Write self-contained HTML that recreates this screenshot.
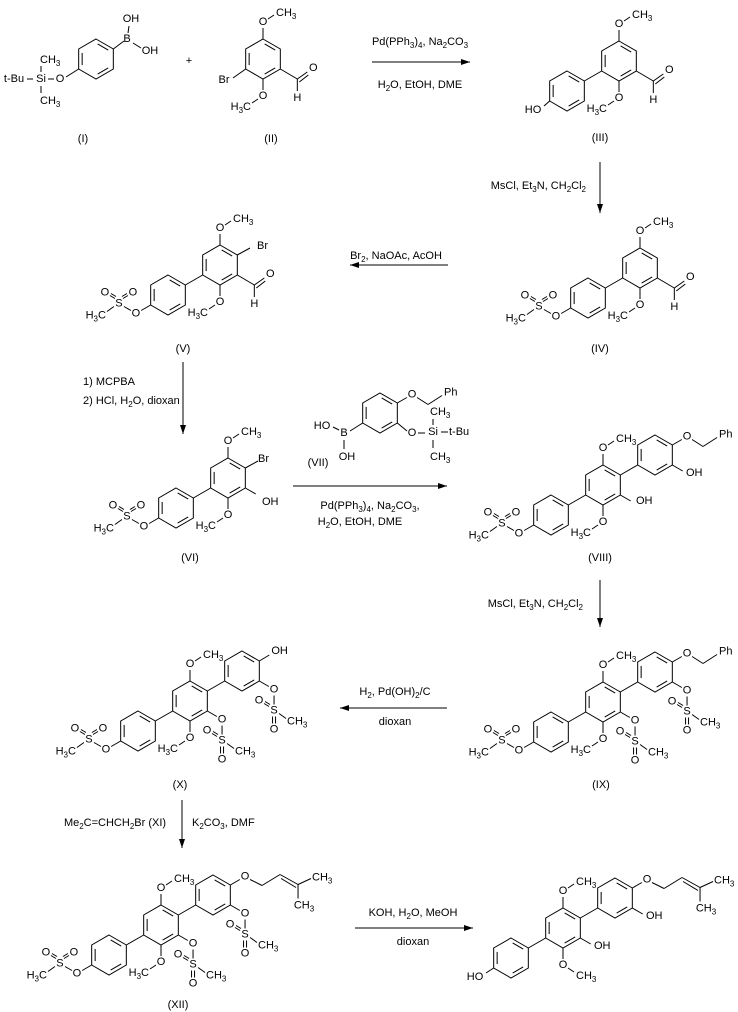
<!DOCTYPE html>
<html><head><meta charset="utf-8"><style>
html,body{margin:0;padding:0;background:#fff;}
svg{display:block;}
text{font-family:"Liberation Sans",sans-serif;font-size:11px;fill:#000;}
</style></head><body>
<svg id="s" width="738" height="1012" viewBox="0 0 738 1012" xmlns="http://www.w3.org/2000/svg"></svg>
<script>
const S=document.getElementById('s');const NS='http://www.w3.org/2000/svg';
let out='';
const r=20;
function P(c,i){const a=(-90+60*i)*Math.PI/180;return [c[0]+r*Math.cos(a),c[1]+r*Math.sin(a)];}
function L(a,b,c,d){out+=`<line x1="${a}" y1="${b}" x2="${c}" y2="${d}" stroke="#000" stroke-width="1"/>`;}
function T(x,y,s,anc){anc=anc||'middle';
 let h=s.replace(/_(\w)/g,'<tspan font-size="8" dy="3">$1</tspan><tspan dy="-3">\u200b</tspan>');
 out+=`<text x="${x}" y="${y}" text-anchor="${anc}" dominant-baseline="central">${h}</text>`;}
function ring(c){const p=[];for(let i=0;i<6;i++)p.push(P(c,i));
 out+=`<polygon points="${p.map(q=>q.join(',')).join(' ')}" fill="none" stroke="#000" stroke-width="1"/>`;
 for(const i of [0,2,4]){const a=p[i],b=p[(i+1)%6];
  const f=(q)=>[q[0]+(c[0]-q[0])*0.2,q[1]+(c[1]-q[1])*0.2];
  let A=f(a),B=f(b);const dx=B[0]-A[0],dy=B[1]-A[1];
  L(A[0]+dx*0.12,A[1]+dy*0.12,B[0]-dx*0.12,B[1]-dy*0.12);}}
function dir(c,i){const p=P(c,i);return [(p[0]-c[0])/r,(p[1]-c[1])/r];}
function sub(c,i,label,len){len=len||18;const p=P(c,i),d=dir(c,i);
 const e=[p[0]+d[0]*(len-6),p[1]+d[1]*(len-6)];L(p[0],p[1],e[0],e[1]);
 const q=[p[0]+d[0]*len,p[1]+d[1]*len];if(label)T(q[0],q[1],label);return q;}
function bond(c1,i,c2,j){const a=P(c1,i),b=P(c2,j);L(a[0],a[1],b[0],b[1]);}
function meoTop(c){const o=sub(c,0,'O',17);L(o[0]+5,o[1]-3,o[0]+11,o[1]-7);T(o[0]+13,o[1]-9,'CH_3','start');}
function meoBot(c){const o=sub(c,3,'O',17);L(o[0]-5,o[1]+3,o[0]-11,o[1]+7);T(o[0]-12,o[1]+11,'H_3C','end');}
function meoBot2(c){const o=sub(c,3,'O',17);L(o[0]+5,o[1]+3,o[0]+11,o[1]+7);T(o[0]+13,o[1]+11,'CH_3','start');}
function msL(c){const o=sub(c,4,'O',17);const s=[o[0]-17,o[1]-10];L(o[0]-5,o[1]-3,s[0]+5,s[1]+3);T(s[0],s[1],'S');
 L(s[0]-4,s[1]-5,s[0]-9,s[1]-8);L(s[0]-3,s[1]-7,s[0]-8,s[1]-10);T(s[0]-14,s[1]-11,'O');
 L(s[0]+4,s[1]-5,s[0]+9,s[1]-8);L(s[0]+3,s[1]-7,s[0]+8,s[1]-10);T(s[0]+14,s[1]-11,'O');
 L(s[0]-5,s[1]+3,s[0]-12,s[1]+8);T(s[0]-13,s[1]+12,'H_3C','end');}
function msR(c,i){const o=sub(c,i,'O',17);const s=[o[0],o[1]+21];L(o[0],o[1]+6,s[0],s[1]-6);T(s[0],s[1],'S');
 L(s[0]-5,s[1]-4,s[0]-10,s[1]-7);L(s[0]-4,s[1]-6,s[0]-9,s[1]-9);T(s[0]-15,s[1]-10,'O');
 L(s[0]-1.5,s[1]+6,s[0]-1.5,s[1]+13);L(s[0]+1.5,s[1]+6,s[0]+1.5,s[1]+13);T(s[0],s[1]+19,'O');
 L(s[0]+5,s[1]+3,s[0]+12,s[1]+8);T(s[0]+13,s[1]+11,'CH_3','start');}
function cho(c){const p=P(c,2);const q=[p[0]+17,p[1]+10];L(p[0],p[1],q[0],q[1]);
 L(q[0],q[1],q[0]+10,q[1]-7);L(q[0]+2,q[1]+3,q[0]+11,q[1]-4);T(q[0]+16,q[1]-11,'O');L(q[0],q[1],q[0],q[1]+12);T(q[0],q[1]+19,'H');}
function obn(c){const o=sub(c,1,'O',17);L(o[0]+5,o[1]+3,o[0]+16,o[1]+10);L(o[0]+16,o[1]+10,o[0]+30,o[1]+1);T(o[0]+32,o[1]-2,'Ph','start');}
function prenyl(c){const o=sub(c,1,'O',17);const a=[o[0]+17,o[1]+9],b=[o[0]+35,o[1]-2],d=[o[0]+53,o[1]+8];
 L(o[0]+5,o[1]+3,a[0],a[1]);L(a[0],a[1],b[0],b[1]);L(b[0],b[1],d[0],d[1]);L(b[0]+1,b[1]+4,d[0]-2,d[1]+3);
 L(d[0],d[1],d[0]+13,d[1]-6);T(d[0]+14,d[1]-7,'CH_3','start');L(d[0],d[1],d[0],d[1]+14);T(d[0]+6,d[1]+21,'CH_3');}
function arrow(x1,y1,x2,y2){L(x1,y1,x2,y2);const dx=x2-x1,dy=y2-y1,l=Math.hypot(dx,dy),ux=dx/l,uy=dy/l;
 const b=[x2-ux*9,y2-uy*9];out+=`<polygon points="${x2},${y2} ${b[0]-uy*3},${b[1]+ux*3} ${b[0]+uy*3},${b[1]-ux*3}" fill="#000"/>`;}

// (I)
let c=[96,59];ring(c);
let p=P(c,1);L(p[0],p[1],124,41);T(127,39,'B');L(128,33,129,26);T(131,19,'OH');L(133,43,141,48);T(150,51,'OH');
p=P(c,4);L(p[0],p[1],66,77);T(60,79,'O');L(54,79,48,79);T(41,79,'Si');L(33,79,27,79);T(14,79,'t-Bu');
L(41,72,41,66);T(40,60,'CH_3','start');L(41,86,41,93);T(40,101,'CH_3','start');
T(83,139,'(I)');T(189,61,'+');
// (II)
c=[263,59];ring(c);meoTop(c);meoBot(c);cho(c);p=P(c,4);L(p[0],p[1],233,78);T(224,80,'Br');T(271,139,'(II)');
arrow(372,62,470,62);T(420,42,'Pd(PPh_3)_4, Na_2CO_3');T(420,85,'H_2O, EtOH, DME');
// (III)
c=[619,61];let q=[567,91];ring(c);ring(q);bond(c,4,q,1);meoTop(c);meoBot(c);cho(c);
p=P(q,4);L(p[0],p[1],544,106);T(533,110,'HO');T(600,138,'(III)');
arrow(600,162,600,213);T(586,186,'MsCl, Et_3N, CH_2Cl_2','end');
// (IV)
c=[640,268];q=[588,298];ring(c);ring(q);bond(c,4,q,1);meoTop(c);meoBot(c);cho(c);msL(q);T(600,349,'(IV)');
arrow(448,265,350,265);T(396,256,'Br_2, NaOAc, AcOH');
// (V)
c=[220,265];q=[168,295];ring(c);ring(q);bond(c,4,q,1);meoTop(c);meoBot(c);cho(c);msL(q);
p=P(c,1);L(p[0],p[1],250,248);T(257,246,'Br','start');T(183,349,'(V)');
arrow(183,362,183,434);T(83,382,'1) MCPBA','start');T(83,401,'2) HCl, H_2O, dioxan','start');
// (VI)
c=[228,478];q=[176,508];ring(c);ring(q);bond(c,4,q,1);meoTop(c);meoBot(c);msL(q);
p=P(c,1);L(p[0],p[1],258,461);T(258,459,'Br','start');sub(c,2,'');T(262,502,'OH','start');T(190,558,'(VI)');
// (VII)
c=[380,413];ring(c);p=P(c,4);L(p[0],p[1],350,431);T(344,433,'B');L(339,430,333,427);T(322,426,'HO');L(344,440,344,449);T(347,457,'OH');
p=P(c,2);L(p[0],p[1],407,431);T(412,433,'O');L(418,433,425,433);T(433,432,'Si');L(441,432,448,432);T(449,432,'t-Bu','start');
L(433,425,433,419);T(430,412,'CH_3','start');L(433,440,433,448);T(430,457,'CH_3','start');
obn(c);T(318,463,'(VII)');
arrow(293,486,447,486);T(370,506,'Pd(PPh_3)_4, Na_2CO_3,');T(360,522,'H_2O, EtOH, DME');
// (VIII)
c=[603,485];let a=[551,515],b=[655,455];[c,a,b].forEach(ring);bond(c,4,a,1);bond(c,1,b,4);meoTop(c);meoBot(c);msL(a);obn(b);
sub(b,2,'');T(686,473,'OH','start');sub(c,2,'');T(636,501,'OH','start');T(600,558,'(VIII)');
arrow(600,580,600,627);T(583,604,'MsCl, Et_3N, CH_2Cl_2','end');
// (IX)
c=[603,702];a=[551,732];b=[655,672];[c,a,b].forEach(ring);bond(c,4,a,1);bond(c,1,b,4);meoTop(c);meoBot(c);msL(a);obn(b);msR(b,2);msR(c,2);T(601,785,'(IX)');
arrow(447,708,340,708);T(395,692,'H_2, Pd(OH)_2/C');T(395,722,'dioxan');
// (X)
c=[190,701];a=[138,731];b=[242,671];[c,a,b].forEach(ring);bond(c,4,a,1);bond(c,1,b,4);meoTop(c);meoBot(c);msL(a);
p=P(b,1);L(p[0],p[1],p[0]+10,p[1]-6);T(p[0]+12,p[1]-10,'OH','start');msR(b,2);msR(c,2);T(180,785,'(X)');
arrow(182,800,182,848);T(115,823,'Me_2C=CHCH_2Br   (XI)');T(192,823,'K_2CO_3, DMF','start');
// (XII)
c=[161,925];a=[109,955];b=[213,895];[c,a,b].forEach(ring);bond(c,4,a,1);bond(c,1,b,4);meoTop(c);meoBot(c);msL(a);prenyl(b);msR(b,2);msR(c,2);T(178,1005,'(XII)');
arrow(355,928,473,928);T(413,913,'KOH, H_2O, MeOH');T(413,942,'dioxan');
// final
c=[563,928];a=[511,958];b=[615,898];[c,a,b].forEach(ring);bond(c,4,a,1);bond(c,1,b,4);meoTop(c);meoBot2(c);prenyl(b);
p=P(a,4);L(p[0],p[1],486,973);T(475,977,'HO');sub(b,2,'');T(646,916,'OH','start');sub(c,2,'');T(594,946,'OH','start');
S.innerHTML=out;
</script>
</body></html>
